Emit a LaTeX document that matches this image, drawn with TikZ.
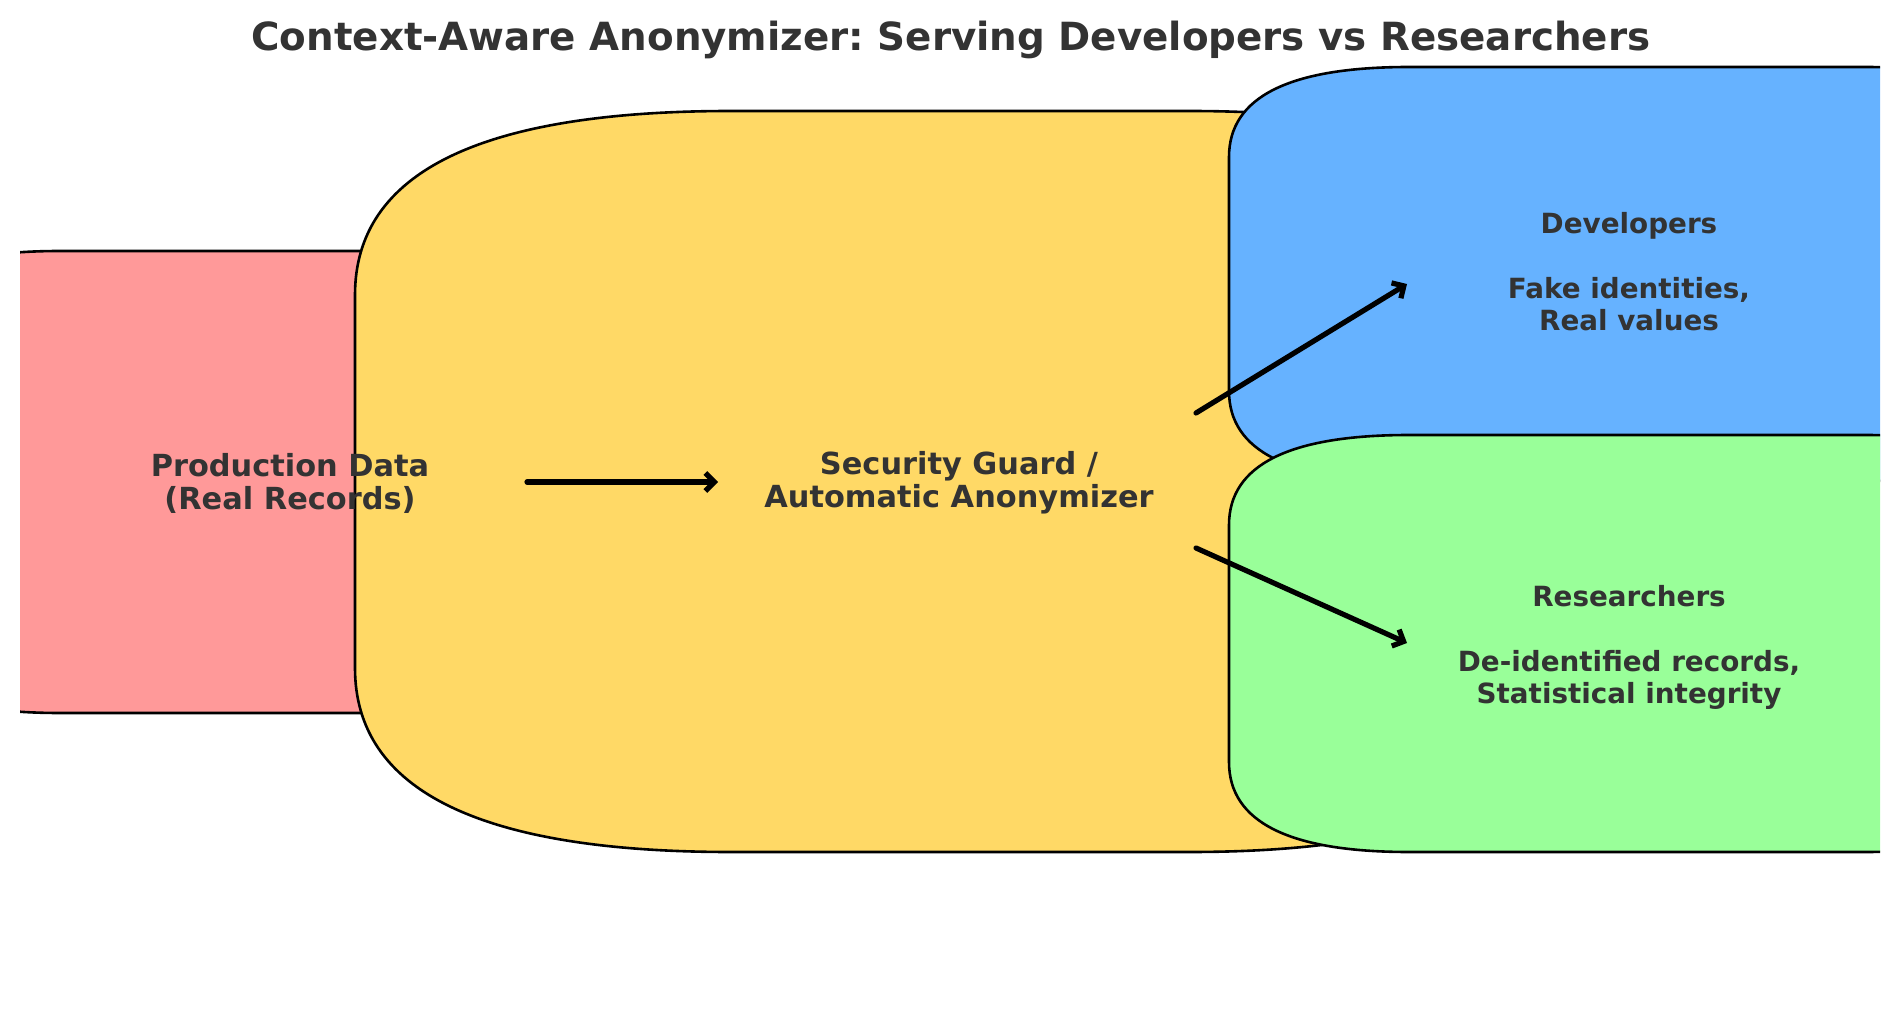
\documentclass[tikz,border=0pt]{standalone}
\usepackage{fontspec}
\setmainfont{DejaVu Sans}
\frenchspacing
\usetikzlibrary{arrows.meta,positioning}

\definecolor{prodred}{HTML}{FF9999}
\definecolor{guardyellow}{HTML}{FFD966}
\definecolor{devblue}{HTML}{66B2FF}
\definecolor{resgreen}{HTML}{99FF99}
\definecolor{inkgrey}{HTML}{333333}

% soft box: left, top, right, bottom, rx, ry, fill
\newcommand{\softbox}[7]{%
  \filldraw[boxline, fill=#7]
    (#1,#2+#6) .. controls (#1,#2+#6/3) and (#1+#5/3,#2) .. (#1+#5,#2)
    -- (#3-#5,#2) .. controls (#3-#5/3,#2) and (#3,#2+#6/3) .. (#3,#2+#6)
    -- (#3,#4-#6) .. controls (#3,#4-#6/3) and (#3-#5/3,#4) .. (#3-#5,#4)
    -- (#1+#5,#4) .. controls (#1+#5/3,#4) and (#1,#4-#6/3) .. (#1,#4-#6)
    -- cycle;}

\begin{document}
\begin{tikzpicture}[x=0.5pt, y=-0.5pt,
    boxline/.style={draw=black, line width=1.3pt},
    boxtext/.style={font=\fontsize{15.2pt}{16.5pt}\selectfont\bfseries, text=inkgrey, align=center, inner sep=0pt},
    usertext/.style={boxtext, font=\fontsize{13.9pt}{16.2pt}\selectfont\bfseries},
    flow/.style={line width=2.6pt, line cap=round, -{Straight Barb[length=4.5pt,width=9pt]}},
    node distance = 187.75pt]
          \useasboundingbox (0,0) rectangle (1900,1010);
          \begin{scope}
            \clip (20,0) rectangle (1880,1010);
            \softbox{-120}{251}{700}{713}{180}{90}{prodred}
            \softbox{355}{111}{1565}{852}{376}{184}{guardyellow}
            \softbox{1229}{67}{2045}{481}{180}{90}{devblue}
            \softbox{1229}{435}{2045}{852}{180}{90}{resgreen}
          \end{scope}
          \node[font=\fontsize{19.4pt}{23pt}\selectfont\bfseries, text=inkgrey, anchor=base, inner sep=0pt](title) at (951,51)
            {Context-Aware Anonymizer: Serving Developers vs Researchers};
          \node[boxtext](guard) at (959,483) {Security Guard /\\Automatic Anonymizer};
          \node[boxtext](prod)  [left of = guard, node distance = 334.5pt] {Production Data\\(Real Records)};
          \node[usertext](dev)  at (1629,272) {Developers\\[16.2pt]Fake identities,\\Real values};
          \node[usertext](res)  [below of = dev] {Researchers\\[16.2pt]De-identified records,\\Statistical integrity};
          \coordinate (prodout)   at (527,482);
          \coordinate (guardin)   at (718,482);
          \coordinate (guardup)   at (1196,413);
          \coordinate (devin)     at (1407,284);
          \coordinate (guarddown) at (1196,548);
          \coordinate (resin)     at (1407,643);
          \path[flow]
            (prodout) edge (guardin)
            (guardup) edge (devin)
            (guarddown) edge (resin)
            ;
\end{tikzpicture}
\end{document}
